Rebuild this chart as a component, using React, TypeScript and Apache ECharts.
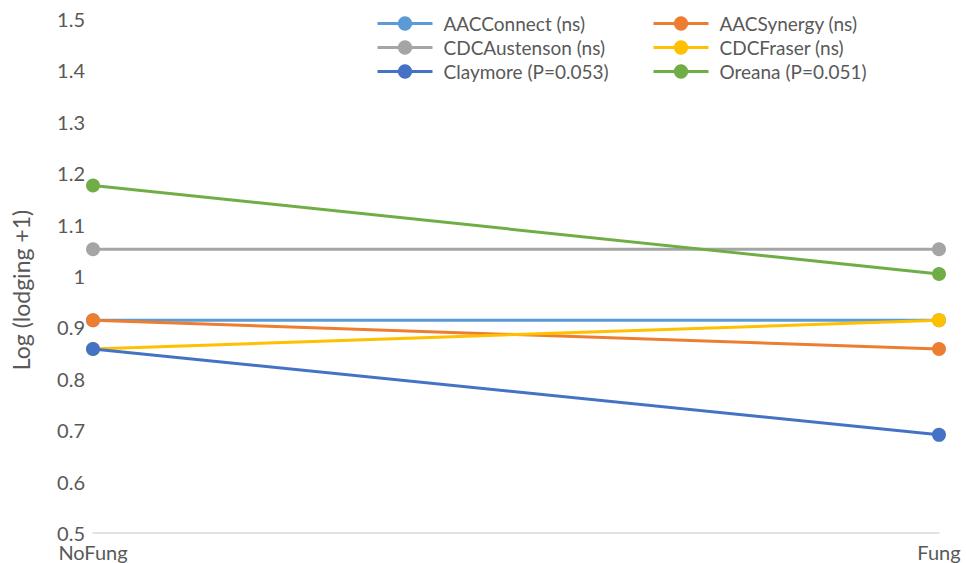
import React, { useEffect, useRef } from "react";
import * as echarts from "echarts";

const categories = ["NoFung", "Fung"];
const seriesNames = [
  "AACConnect (ns)",
  "AACSynergy (ns)",
  "CDCAustenson (ns)",
  "CDCFraser (ns)",
  "Claymore (P=0.053)",
  "Oreana (P=0.051)",
];
const aacConnect = [0.914, 0.914];
const aacSynergy = [0.914, 0.858];
const cdcAustenson = [1.052, 1.052];
const cdcFraser = [0.858, 0.914];
const claymore = [0.858, 0.691];
const oreana = [1.176, 1.004];
const seriesValues = [aacConnect, aacSynergy, cdcAustenson, cdcFraser, claymore, oreana];
const colors = ["#5B9BD5", "#ED7D31", "#A5A5A5", "#FFC000", "#4472C4", "#70AD47"];
const yTicks = { min: 0.5, max: 1.5, interval: 0.1 };

const FONT = "Lato, 'Open Sans', sans-serif";
const FS = 20;

export default function App() {
  const ref = useRef<HTMLDivElement>(null);
  useEffect(() => {
    document.body.style.margin = "0";
    const chart = echarts.init(ref.current!, null, { renderer: "svg" });
    const legendCommon = {
      orient: "vertical" as const,
      top: 9,
      itemWidth: 55,
      itemHeight: 18,
      itemGap: 5,
      padding: 5,
      lineStyle: { width: 3 },
      textStyle: { fontFamily: FONT, fontSize: 19, color: "#595959", padding: [0, 0, 0, 6] },
    };
    chart.setOption({
      animation: false,
      color: colors,
      legend: [
        { ...legendCommon, left: 371, data: [seriesNames[0], seriesNames[2], seriesNames[4]] },
        { ...legendCommon, left: 647, data: [seriesNames[1], seriesNames[3], seriesNames[5]] },
      ],
      grid: { left: 93, right: 27, top: 19, bottom: 30, containLabel: false },
      xAxis: {
        type: "category",
        data: categories,
        boundaryGap: false,
        axisLine: { show: true, lineStyle: { color: "#D9D9D9", width: 1.5 } },
        axisTick: { show: false },
        axisLabel: { fontFamily: FONT, fontSize: FS, color: "#595959", margin: 9 },
        splitLine: { show: false },
      },
      yAxis: {
        type: "value",
        min: yTicks.min,
        max: yTicks.max,
        interval: yTicks.interval,
        name: "Log (lodging +1)",
        nameLocation: "middle",
        nameRotate: 90,
        nameGap: 61,
        nameTextStyle: { fontFamily: FONT, fontSize: 23, color: "#595959", padding: [0, 28, 0, 0] },
        axisLine: { show: false },
        axisTick: { show: false },
        splitLine: { show: false },
        axisLabel: {
          fontFamily: FONT,
          fontSize: FS,
          color: "#595959",
          margin: 8,
          formatter: (v: number) => String(Math.round(v * 10) / 10),
        },
      },
      series: seriesNames.map((name, i) => ({
        name,
        type: "line",
        data: seriesValues[i],
        symbol: "circle",
        symbolSize: 14,
        lineStyle: { width: 3, color: colors[i] },
        itemStyle: { color: colors[i] },
        z: 2 + i,
      })),
    });
    return () => chart.dispose();
  }, []);
  return <div ref={ref} style={{ width: 966, height: 563 }} />;
}
